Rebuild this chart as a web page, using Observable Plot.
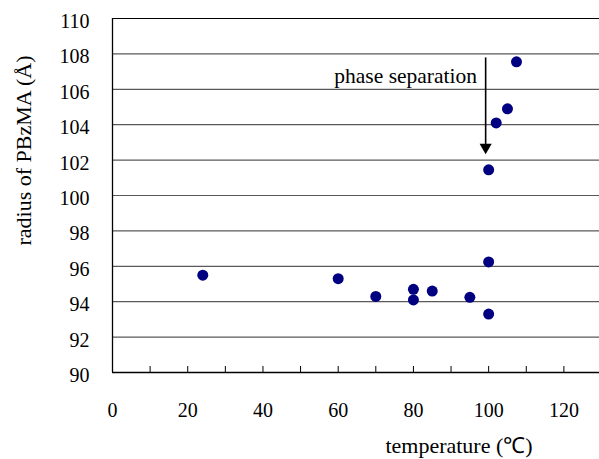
<!DOCTYPE html>
<html>
<head>
<meta charset="utf-8">
<script src="https://cdn.jsdelivr.net/npm/d3@7"></script>
<script src="https://cdn.jsdelivr.net/npm/@observablehq/plot@0.6"></script>
<style>
  html, body { margin: 0; padding: 0; background: #fff; overflow: hidden; }
</style>
</head>
<body>
<div id="chart"></div>
<script>
// Data
const temperature = [24, 60, 70, 80, 80, 85, 95, 100, 100, 100, 102, 105, 107.4];
const radius      = [95.5, 95.3, 94.3, 94.7, 94.1, 94.6, 94.25, 96.25, 93.3, 101.45, 104.1, 104.9, 107.55];

const xTickLabels = [0, 20, 40, 60, 80, 100, 120];
const xMinorTicks = [0, 10, 20, 30, 40, 50, 60, 70, 80, 90, 100, 110, 120];
const yTicks = [90, 92, 94, 96, 98, 100, 102, 104, 106, 108, 110];

// Annotation
const noteText = ["phase separation"];
const noteX = [96.9];
const noteY = [106.75];
const arrowX = [99.2];
const arrowY1 = [107.8];
const arrowY2 = [102.55];

const points = temperature.map((t, i) => ({t, r: radius[i]}));
const serif = "'Liberation Serif', 'Times New Roman', serif";

const chart = Plot.plot({
  width: 599,
  height: 459,
  marginLeft: 112,
  marginRight: -2,
  marginTop: 18,
  marginBottom: 87,
  style: {fontFamily: serif, fontSize: "20px", color: "#000", background: "#fff"},
  x: {domain: [0, 130]},
  y: {domain: [90, 110]},
  marks: [
    Plot.ruleY(yTicks.filter(v => v > 90 && v < 110), {stroke: "#5a5a5a", strokeWidth: 1.2}),
    Plot.ruleY([110], {stroke: "#000", strokeWidth: 1.2}),
    Plot.ruleY([90], {stroke: "#000", strokeWidth: 1.3}),
    Plot.ruleX([0], {stroke: "#000", strokeWidth: 1.3}),
    Plot.axisX({ticks: xMinorTicks, tickSize: -6, tickFormat: () => "", stroke: "#000", label: null}),
    Plot.axisX({ticks: xTickLabels, tickSize: 0, tickPadding: 30, fontSize: 20, label: null}),
    Plot.axisY({ticks: yTicks, tickSize: 0, tickPadding: 23, fontSize: 20, dy: 3, label: null}),
    Plot.text(["radius of PBzMA (Å)"], {frameAnchor: "top-left", textAnchor: "middle", lineAnchor: "middle", dx: -89, dy: 132, rotate: -90, fontSize: 22, fontFamily: serif}),
    Plot.text(["temperature (℃)"], {frameAnchor: "bottom", textAnchor: "middle", lineAnchor: "middle", dx: 102, dy: 73, fontSize: 22, fontFamily: serif}),
    Plot.text(noteText, {x: noteX, y: noteY, textAnchor: "end", lineAnchor: "middle", fontSize: 21.5, fontFamily: serif}),
    Plot.link(arrowX, {x1: d => d, x2: d => d, y1: () => arrowY1[0], y2: () => arrowY2[0] + 0.3, stroke: "#000", strokeWidth: 1.6}),
    Plot.dot(arrowX, {x: d => d, y: () => arrowY2[0], symbol: "triangle", rotate: 180, r: 4.5, fill: "#000", stroke: "none", dy: -3}),
    Plot.dot(points, {x: "t", y: "r", r: 5.5, fill: "#000080", stroke: "none"})
  ]
});
document.getElementById("chart").appendChild(chart);
</script>
</body>
</html>
